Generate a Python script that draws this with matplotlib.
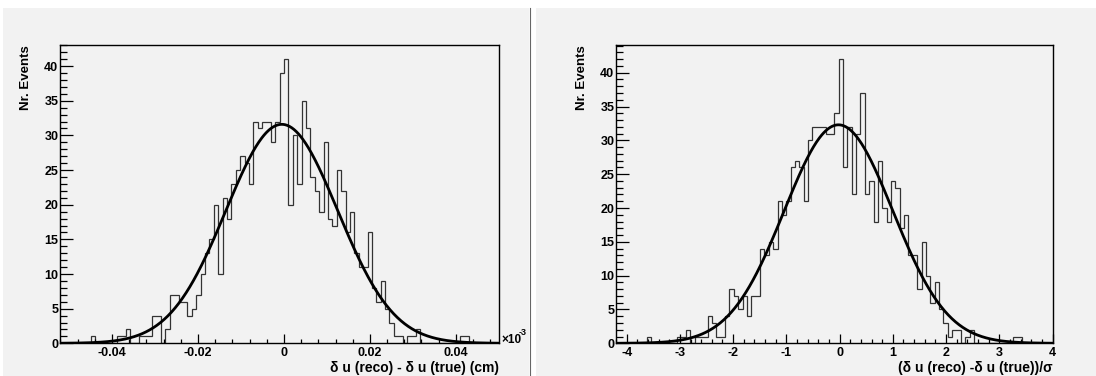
import numpy as np
import matplotlib.pyplot as plt
from matplotlib.patches import Rectangle
from matplotlib.ticker import MultipleLocator

plt.rcParams['font.family'] = ['Liberation Sans', 'DejaVu Sans']
plt.rcParams['font.weight'] = 'bold'
plt.rcParams['axes.unicode_minus'] = False

# residuals delta u (reco) - delta u (true), 100 bins
res_lo, res_hi = -0.0521, 0.0501
res_counts = [0, 0, 0, 0, 0, 0, 0, 1, 0, 0,
              0, 0, 0, 1, 1, 2, 0, 0, 1, 1,
              1, 4, 4, 0, 2, 7, 7, 6, 6, 4,
              5, 7, 10, 13, 15, 20, 10, 21, 18, 23,
              25, 27, 26, 23, 32, 31, 32, 32, 29, 32,
              39, 41, 20, 30, 23, 35, 31, 24, 22, 19,
              29, 18, 17, 25, 22, 16, 19, 13, 11, 11,
              16, 8, 6, 9, 5, 3, 1, 1, 0, 1,
              1, 2, 0, 0, 0, 0, 0, 0, 0, 0,
              0, 1, 1, 0, 0, 0, 0, 0, 0, 0]

# pulls (residual / sigma), 100 bins
pull_lo, pull_hi = -4.2, 4.0
pull_counts = [0, 0, 0, 0, 0, 0, 0, 1, 0, 0,
               0, 0, 0, 0, 1, 1, 2, 0, 1, 1,
               1, 4, 3, 1, 1, 4, 8, 7, 5, 7,
               4, 7, 7, 14, 13, 15, 14, 21, 19, 21,
               26, 27, 26, 21, 30, 32, 32, 32, 31, 31,
               34, 42, 26, 32, 22, 31, 37, 22, 24, 18,
               27, 20, 18, 24, 23, 17, 19, 13, 13, 8,
               15, 10, 6, 9, 5, 3, 1, 2, 2, 0,
               1, 2, 0, 0, 0, 0, 0, 0, 0, 0,
               0, 1, 1, 0, 0, 0, 0, 0, 0, 0]

# gaussian fits: (constant, mean, sigma)
res_fit = (31.6, -0.0005, 0.0130)
pull_fit = (32.3, -0.02, 1.02)

res_xticks = [-0.04, -0.02, 0, 0.02, 0.04]
res_xticklabels = ['-0.04', '-0.02', '0', '0.02', '0.04']
pull_xticks = [-4, -3, -2, -1, 0, 1, 2, 3, 4]

PAD = '#f2f2f2'
W, H = 1096, 376

fig = plt.figure(figsize=(W / 100, H / 100), dpi=100)
fig.patch.set_facecolor('white')

# two canvas pads, kept behind the axes
fig.patches.append(Rectangle((3 / W, 0), 526 / W, 368 / H, transform=fig.transFigure,
                             facecolor=PAD, edgecolor='none', zorder=-10))
fig.patches.append(Rectangle((536 / W, 0), 560 / W, 368 / H, transform=fig.transFigure,
                             facecolor=PAD, edgecolor='none', zorder=-10))
fig.add_artist(plt.Line2D([530 / W, 530 / W], [0, 368 / H], transform=fig.transFigure,
                          color='#666666', lw=0.8, zorder=-10))


def gauss(x, p):
    a, mu, s = p
    return a * np.exp(-0.5 * ((x - mu) / s) ** 2)


def draw_hist(ax, counts, lo, hi, fit, xmajor, xminor):
    counts = np.asarray(counts, dtype=float)
    edges = np.linspace(lo, hi, len(counts) + 1)
    ax.stairs(counts, edges, color='#333333', lw=0.9, baseline=0)
    xs = np.linspace(lo, hi, 600)
    ax.plot(xs, gauss(xs, fit), color='black', lw=2.0)
    ax.set_xlim(lo, hi)
    ax.set_ylim(0, counts.max() * 1.05)
    ax.set_facecolor(PAD)
    for sp in ax.spines.values():
        sp.set_linewidth(1.0)
        sp.set_color('black')
    ax.xaxis.set_major_locator(MultipleLocator(xmajor))
    ax.xaxis.set_minor_locator(MultipleLocator(xminor))
    ax.yaxis.set_major_locator(MultipleLocator(5))
    ax.yaxis.set_minor_locator(MultipleLocator(1))
    ax.tick_params(axis='x', which='major', direction='in', length=6.5, width=0.9,
                   labelsize=9, pad=3.0, top=False)
    ax.tick_params(axis='x', which='minor', direction='in', length=3.2, width=0.9, top=False)
    ax.tick_params(axis='y', which='major', direction='in', length=9.4, width=0.9,
                   labelsize=9, pad=1.2, right=False)
    ax.tick_params(axis='y', which='minor', direction='in', length=4.7, width=0.9, right=False)
    ax.text(-0.078, 1.0, 'Nr. Events', transform=ax.transAxes, rotation=90,
            ha='center', va='top', fontsize=9.5, fontweight='bold')


ax1 = fig.add_axes([60 / W, (H - 343.3) / H, 439.3 / W, 298.3 / H])
draw_hist(ax1, res_counts, res_lo, res_hi, res_fit, 0.02, 0.004)
ax1.set_xticks(res_xticks)
ax1.set_xticklabels(res_xticklabels)
ax1.text(1.0, -0.083, 'δ u (reco) - δ u (true) (cm)', transform=ax1.transAxes,
         ha='right', va='center', fontsize=10, fontweight='bold')
ax1.text(1.004, 0.01, '×10', transform=ax1.transAxes, ha='left', va='center',
         fontsize=8.5, fontweight='bold')
ax1.text(1.044, 0.037, '-3', transform=ax1.transAxes, ha='left', va='center',
         fontsize=6.5, fontweight='bold')

ax2 = fig.add_axes([616 / W, (H - 343.3) / H, 436.5 / W, 298.3 / H])
draw_hist(ax2, pull_counts, pull_lo, pull_hi, pull_fit, 1, 0.2)
ax2.set_xticks(pull_xticks)
ax2.text(1.0, -0.083, '(δ u (reco) -δ u (true))/σ', transform=ax2.transAxes,
         ha='right', va='center', fontsize=10, fontweight='bold')

fig.savefig('out.png', dpi=100, facecolor='white')
